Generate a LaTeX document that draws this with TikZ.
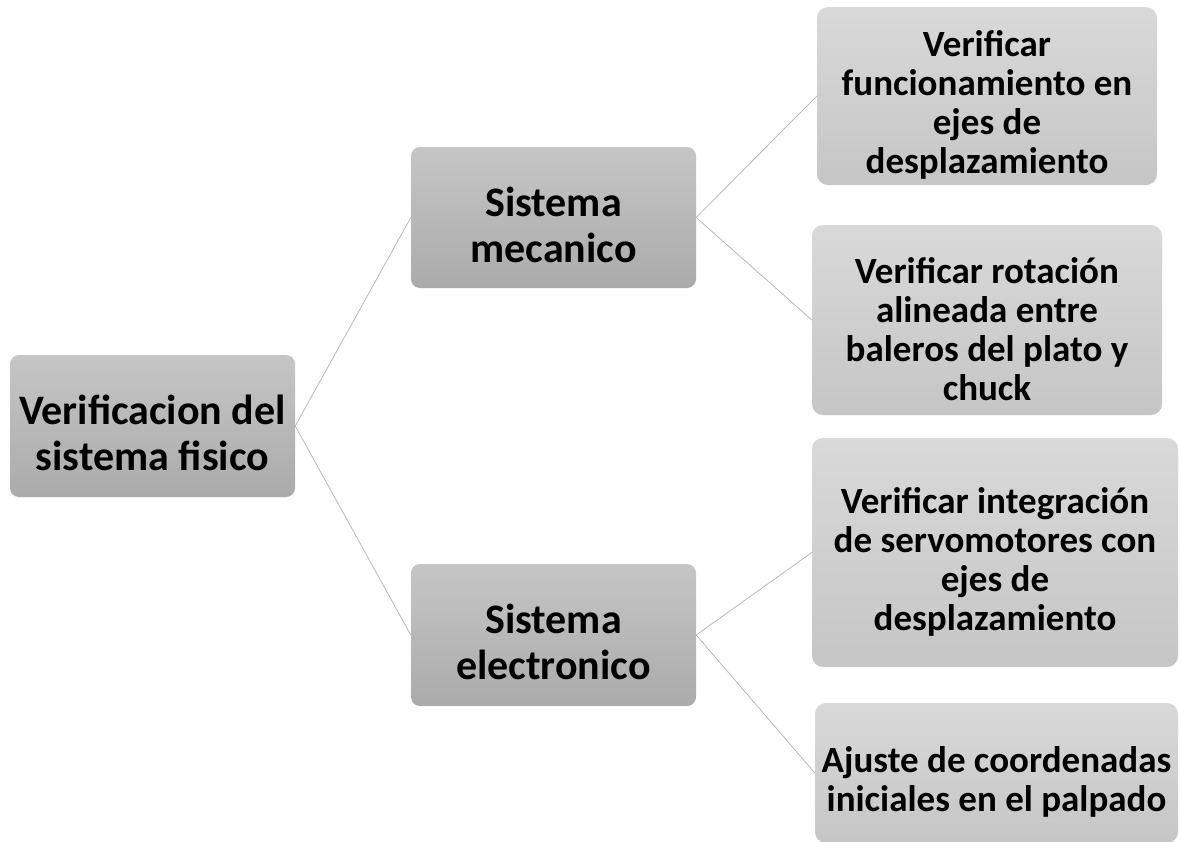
\documentclass[tikz,border=0pt]{standalone}
\usepackage{fontspec}
\setmainfont{Carlito}
\begin{document}
\begin{tikzpicture}
		[	x=1pt,y=-1pt,
		main/.style={rectangle,rounded corners=9pt,inner sep=0pt,align=flush center,
			top color=gray!45!white,bottom color=gray!66!white,
			font=\bfseries\fontsize{42}{46}\selectfont,minimum width=285pt,text width=279pt,minimum height=#1,
			execute at begin node={\rule{0pt}{44pt}}},
		main/.default=142pt,
		task/.style={rectangle,rounded corners=11pt,inner sep=0pt,align=flush center,
			top color=gray!30!white,bottom color=gray!45!white,
			font=\bfseries\fontsize{37}{39}\selectfont,minimum width=#1,text width=#1-4pt,
			execute at begin node={\rule{0pt}{44pt}}},
		link/.style={draw=gray!55!white,line width=0.8pt}
		]
		\clip (0,0) rectangle (1180,841);
		\fill[white] (0,0) rectangle (1180,841);
		\node[main] (sistema) at (152.5,426){Verificacion del\\sistema fisico};
		\node[main=141pt] (mecanico) at (553.5,217.5){Sistema\\mecanico};
		\node[main] (electronico) at (553.5,635){Sistema\\electronico};

\node[task=340pt,minimum height=178pt] (ejes) at (987,96){Verificar\\funcionamiento en\\ejes de\\desplazamiento};
\node[task=350pt,minimum height=190pt] (rotacion) at (987,320){Verificar rotación\\alineada entre\\baleros del plato y\\chuck};
\node[task=366pt,minimum height=229pt] (servos) at (995,552.5){Verificar integración\\de servomotores con\\ejes de\\desplazamiento};
\node[task=363pt,minimum height=140pt] (palpado) at (996.5,773){Ajuste de coordenadas\\iniciales en el palpado};

\draw[link] (sistema.east) -- (mecanico.west);
\draw[link] (sistema.east) -- (electronico.west);
\draw[link] (mecanico.east) -- (ejes.west);
\draw[link] (mecanico.east) -- (rotacion.west);
\draw[link] (electronico.east) -- (servos.west);
\draw[link] (electronico.east) -- (palpado.west);
	\end{tikzpicture}
\end{document}
